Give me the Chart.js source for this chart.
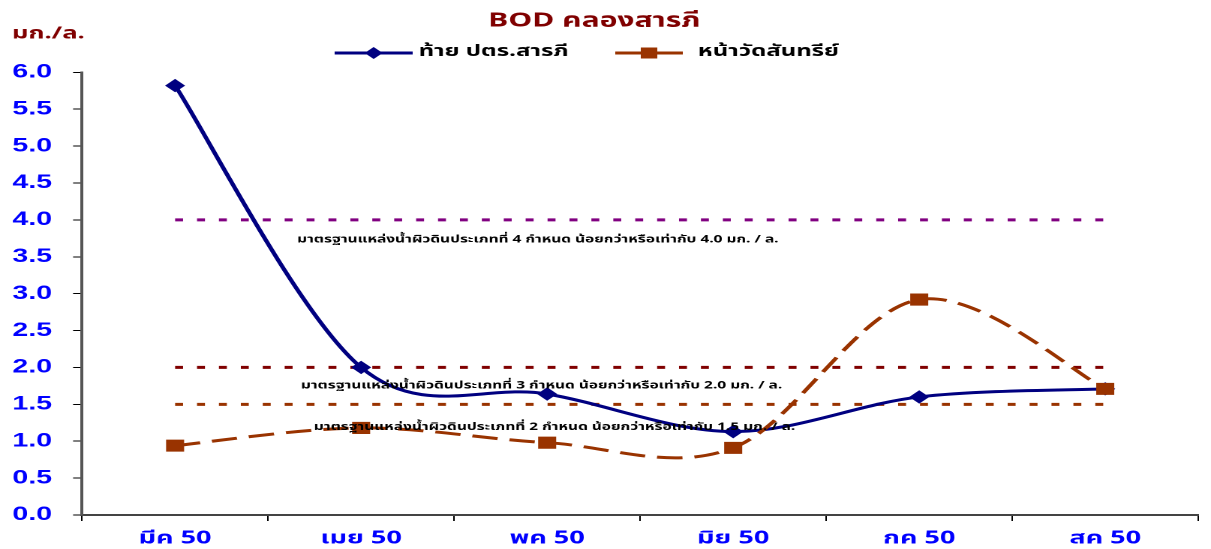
<!DOCTYPE html>
<html><head><meta charset="utf-8">
<script src="https://cdn.jsdelivr.net/npm/chart.js@4/dist/chart.umd.min.js"></script>
<style>
html,body{margin:0;padding:0;background:#fff;overflow:hidden;}
#wrap{width:807px;height:549px;transform:scaleX(1.50062);transform-origin:0 0;}
canvas{display:block;}
</style></head><body>
<div id="wrap"><canvas id="c" width="807" height="549"></canvas></div>
<script>
// ---- data ----
const categories = ['มีค 50', 'เมย 50', 'พค 50', 'มิย 50', 'กค 50', 'สค 50'];
const seriesNames = ['ท้าย ปตร.สารภี', 'หน้าวัดสันทรีย์'];
const tailSarapee = [5.82, 2.0, 1.64, 1.13, 1.60, 1.71];
const watSantharee = [0.94, 1.18, 0.98, 0.91, 2.92, 1.71];
const std4 = [4.0, 4.0, 4.0, 4.0, 4.0, 4.0];
const std3 = [2.0, 2.0, 2.0, 2.0, 2.0, 2.0];
const std2 = [1.5, 1.5, 1.5, 1.5, 1.5, 1.5];
const yTicks = [0, 0.5, 1, 1.5, 2, 2.5, 3, 3.5, 4, 4.5, 5, 5.5, 6];
const stdLabels = [
  'มาตรฐานแหล่งน้ำผิวดินประเภทที่ 4 กำหนด น้อยกว่าหรือเท่ากับ 4.0 มก. / ล.',
  'มาตรฐานแหล่งน้ำผิวดินประเภทที่ 3 กำหนด น้อยกว่าหรือเท่ากับ 2.0 มก. / ล.',
  'มาตรฐานแหล่งน้ำผิวดินประเภทที่ 2 กำหนด น้อยกว่าหรือเท่ากับ 1.5 มก. / ล.'
];
const stdLabelAt = [[1.95, 3.72], [1.97, 1.74], [2.04, 1.18]];
const titleText = 'BOD คลองสารภี';
const unitText = 'มก./ล.';

const THAI = "'Noto Sans Thai','Noto Sans Thai UI',Tahoma,Loma,Garuda,'Liberation Sans',Arial,'DejaVu Sans',sans-serif";
const NAVY = '#000080', BROWN = '#993300';

// Excel-style smoothing (uniform Catmull-Rom) applied to the library's computed points
const excelSmooth = {
  id: 'excelSmooth',
  beforeDatasetsDraw(chart) {
    chart.data.datasets.forEach((ds, i) => {
      if (!ds.smooth) return;
      const meta = chart.getDatasetMeta(i);
      const line = meta.dataset;
      line.updateControlPoints(chart.chartArea, meta.iScale.axis);
      const pts = meta.data, n = pts.length;
      for (let k = 0; k < n; k++) {
        const p = pts[k], prev = pts[Math.max(k - 1, 0)], next = pts[Math.min(k + 1, n - 1)];
        const tx = (next.x - prev.x) / 6, ty = (next.y - prev.y) / 6;
        p.cp1x = p.x - tx; p.cp1y = p.y - ty;
        p.cp2x = p.x + tx; p.cp2y = p.y + ty;
      }
      delete line._path;
    });
  }
};

const decor = {
  id: 'decor',
  afterDatasetsDraw(chart) {
    const ctx = chart.ctx, xs = chart.scales.x, ys = chart.scales.y;
    ctx.save();
    ctx.fillStyle = '#000';
    ctx.font = "bold 10.3px " + THAI;
    ctx.textAlign = 'center';
    ctx.textBaseline = 'middle';
    stdLabels.forEach((t, i) => {
      ctx.fillText(t, xs.getPixelForValue(stdLabelAt[i][0]), ys.getPixelForValue(stdLabelAt[i][1]));
    });
    ctx.restore();
  },
  afterDraw(chart) {
    const ctx = chart.ctx;
    ctx.save();
    ctx.fillStyle = '#800000';
    ctx.font = "bold 20px " + THAI;
    ctx.textAlign = 'center';
    ctx.textBaseline = 'middle';
    ctx.fillText(titleText, 396, 22.5);
    ctx.textAlign = 'left';
    ctx.font = "bold 17px " + THAI;
    ctx.fillText(unitText, 8, 35);
    const ly = 53;
    ctx.lineWidth = 3;
    ctx.strokeStyle = NAVY;
    ctx.beginPath(); ctx.moveTo(223, ly); ctx.lineTo(275, ly); ctx.stroke();
    ctx.fillStyle = NAVY;
    ctx.beginPath(); ctx.moveTo(249, ly - 6); ctx.lineTo(255, ly); ctx.lineTo(249, ly + 6); ctx.lineTo(243, ly); ctx.closePath(); ctx.fill();
    ctx.strokeStyle = BROWN;
    ctx.beginPath(); ctx.moveTo(410, ly); ctx.lineTo(455, ly); ctx.stroke();
    ctx.fillStyle = BROWN;
    ctx.fillRect(427, ly - 5.5, 11, 11);
    ctx.fillStyle = '#000';
    ctx.font = "bold 16px " + THAI;
    ctx.fillText(seriesNames[0], 279, ly);
    ctx.fillText(seriesNames[1], 465, ly);
    ctx.restore();
  }
};

function refLine(data, color, order) {
  return { data, borderColor: color, borderWidth: 3, borderDash: [5.3, 9.3], pointRadius: 0,
    pointHoverRadius: 0, fill: false, tension: 0, order };
}

new Chart(document.getElementById('c'), {
  type: 'line',
  data: {
    labels: categories,
    datasets: [
      { label: seriesNames[1], data: watSantharee, borderColor: BROWN, backgroundColor: BROWN,
        borderWidth: 3, borderDash: [17, 8], pointStyle: 'rect', pointRadius: 8.5,
        pointBorderWidth: 0, pointBackgroundColor: BROWN, tension: 0.4, smooth: true, order: 0 },
      { label: seriesNames[0], data: tailSarapee, borderColor: NAVY, backgroundColor: NAVY,
        borderWidth: 3, pointStyle: 'rectRot', pointRadius: 6.7, pointBorderWidth: 0,
        pointBackgroundColor: NAVY, tension: 0.4, smooth: true, order: 1 },
      refLine(std4, '#800080', 2),
      refLine(std3, '#800000', 3),
      refLine(std2, BROWN, 4)
    ]
  },
  options: {
    responsive: false,
    animation: false,
    devicePixelRatio: 2,
    layout: { padding: { top: 72.3, right: 6.5, left: 0, bottom: 0 } },
    plugins: { legend: { display: false }, title: { display: false }, tooltip: { enabled: false } },
    scales: {
      x: {
        type: 'category', offset: true,
        grid: { offset: true, drawOnChartArea: false, drawTicks: true, tickLength: 6, color: '#000', lineWidth: 1 },
        border: { display: true, color: '#444', width: 2 },
        ticks: { color: '#0000FF', font: { family: THAI, size: 18, weight: 'bold' }, padding: 8, maxRotation: 0, autoSkip: false },
        afterFit(s) { s.height = 34; }
      },
      y: {
        min: 0, max: 6,
        afterBuildTicks(s) { s.ticks = yTicks.map(v => ({ value: v })); },
        grid: { drawOnChartArea: false, drawTicks: true, tickLength: 6, color: '#000', lineWidth: 1 },
        border: { display: true, color: '#555', width: 2 },
        ticks: { color: '#0000FF', font: { family: "'Liberation Sans',Arial,sans-serif", size: 19, weight: 'bold' },
          padding: 14, callback: v => Number(v).toFixed(1) },
        afterFit(s) { s.width = 54.7; }
      }
    }
  },
  plugins: [excelSmooth, decor]
});
</script>
</body></html>
